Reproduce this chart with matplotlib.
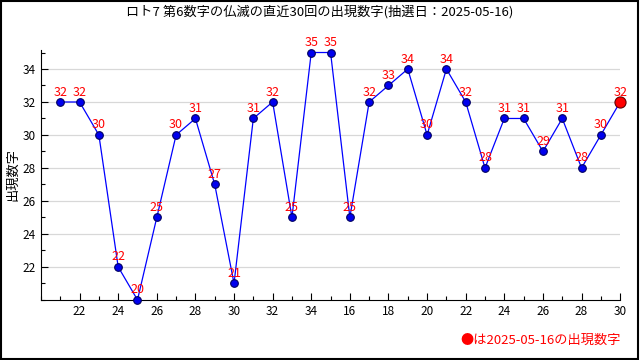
import matplotlib
matplotlib.use('Agg')
import matplotlib.pyplot as plt
from matplotlib.patches import Rectangle
from matplotlib.ticker import MultipleLocator

plt.rcParams['font.family'] = ['Noto Sans CJK JP', 'DejaVu Sans']

# 直近30回の第6数字
values = [32, 32, 30, 22, 20, 25, 30, 31, 27, 21, 31, 32, 25, 35, 35,
          25, 32, 33, 34, 30, 34, 32, 28, 31, 31, 29, 31, 28, 30, 32]
xtick_pos = list(range(2, 31, 2))
xtick_labels = ['22', '24', '26', '28', '30', '32', '34', '16',
                '18', '20', '22', '24', '26', '28', '30']
yticks = [22, 24, 26, 28, 30, 32, 34]
title = 'ロト7 第6数字の仏滅の直近30回の出現数字(抽選日：2025-05-16)'
latest_date = '2025-05-16'

x = list(range(1, len(values) + 1))

fig = plt.figure(figsize=(6.4, 3.6), dpi=100)
ax = fig.add_axes([0.064, 0.167, 0.905, 0.694])

ax.plot(x, values, color='#0000ff', linewidth=0.9, zorder=3, clip_on=False)
ax.plot(x[:-1], values[:-1], 'o', color='#0000ee', markeredgecolor='#000060',
        markersize=5.5, markeredgewidth=0.8, zorder=4, clip_on=False)
ax.plot(x[-1], values[-1], 'o', color='#ff0000', markeredgecolor='#600000',
        markersize=8, markeredgewidth=0.8, zorder=5, clip_on=False)

for xi, v in zip(x, values):
    ax.annotate(str(v), (xi, v), xytext=(0, 2.5), textcoords='offset points',
                ha='center', va='bottom', color='#ff0000', fontsize=9,
                zorder=6)

ax.set_xlim(0, 30)
ax.set_ylim(20, 35.15)
ax.set_xticks(xtick_pos)
ax.set_xticklabels(xtick_labels, fontsize=8.5)
ax.xaxis.set_minor_locator(MultipleLocator(1))
ax.set_yticks(yticks)
ax.set_yticklabels([str(t) for t in yticks], fontsize=8.5)
ax.yaxis.set_minor_locator(MultipleLocator(1))
ax.tick_params(which='major', direction='in', length=5, width=0.8, pad=4)
ax.tick_params(which='minor', direction='in', length=3, width=0.8)
ax.grid(axis='y', which='major', color='#d8d8d8', linewidth=0.9, zorder=0)
ax.set_axisbelow(True)
for side in ['top', 'right']:
    ax.spines[side].set_visible(False)
ax.set_ylabel('出現数字', fontsize=9.5)
ax.yaxis.set_label_coords(-0.037, 0.5)

fig.text(0.5, 0.967, title, ha='center', va='center', fontsize=9.5)
fig.text(0.97, 0.055, f'●は{latest_date}の出現数字', ha='right', va='center',
         color='#ff0000', fontsize=9.5)

fig.patches.append(Rectangle((0.001, 0.002), 0.996, 0.995, transform=fig.transFigure,
                             fill=False, edgecolor='black', linewidth=1.5))

fig.savefig('out.png', dpi=100)
